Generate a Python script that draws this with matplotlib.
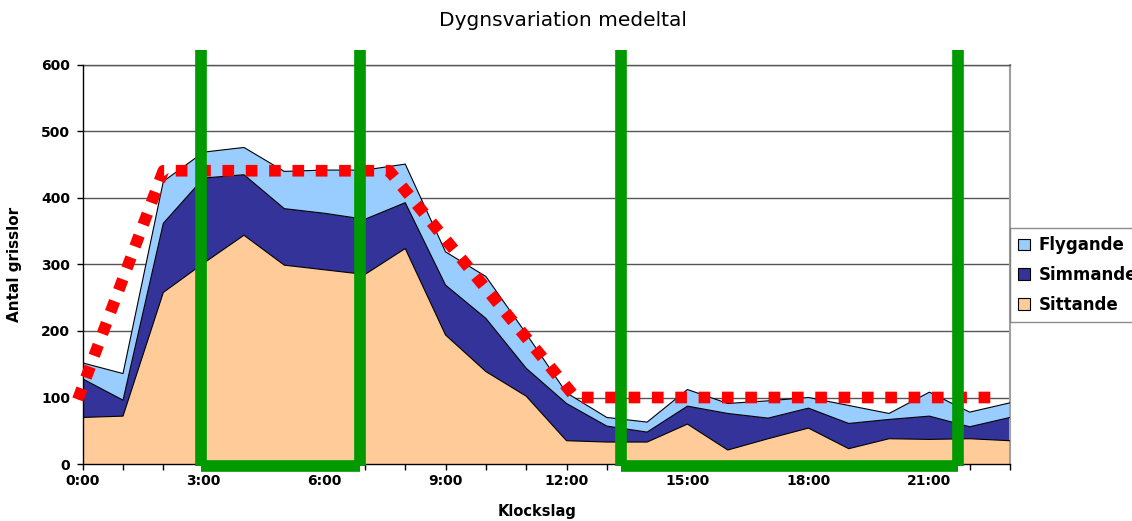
import matplotlib
matplotlib.use("Agg")
import matplotlib.pyplot as plt
from matplotlib.patches import Patch
import numpy as np

# ---- data ----
hours = list(range(24))
hour_labels = ["0:00", "3:00", "6:00", "9:00", "12:00", "15:00", "18:00", "21:00"]
hour_label_pos = [0, 3, 6, 9, 12, 15, 18, 21]

sittande = [70, 72, 258, 302, 344, 299, 292, 285, 324, 194, 139, 102,
            35, 33, 33, 60, 21, 38, 54, 23, 38, 37, 38, 35]
simmande = [58, 24, 104, 128, 91, 85, 85, 83, 69, 75, 80, 42,
            56, 24, 15, 27, 55, 31, 30, 38, 29, 35, 18, 35]
flygande = [24, 40, 63, 39, 41, 56, 65, 74, 58, 50, 63, 52,
            16, 13, 15, 25, 15, 26, 16, 27, 9, 36, 22, 22]

series_names = ["Sittande", "Simmande", "Flygande"]
series_colors = ["#FFCC99", "#333399", "#99CCFF"]

# red dotted target line (hour, value)
target_hours = [-0.12, 2.0, 7.6, 12.22, 22.8]
target_values = [97, 441, 441, 100, 100]

# green brackets (hour positions of verticals), top & bottom values
bracket1 = [2.935, 6.874]
bracket2 = [13.36, 21.70]
bracket_top = 622
bracket_bottom_v = -3
bracket_bottom_h = -2.3

# ---- figure ----
fig = plt.figure(figsize=(11.32, 5.21), dpi=100)
ax = fig.add_axes([82.7 / 1132, 1 - 464 / 521, (1010 - 82.7) / 1132, (464 - 65) / 521])

x = np.array(hours)
s1 = np.array(sittande)
s2 = s1 + np.array(simmande)
s3 = s2 + np.array(flygande)
lows = [np.zeros_like(s1), s1, s2]
highs = [s1, s2, s3]
for lo, hi, c in zip(lows, highs, series_colors):
    ax.fill_between(x, lo, hi, facecolor=c, edgecolor="none", zorder=2)
    ax.plot(x, hi, color="black", lw=0.8, zorder=3)

ax.set_xlim(0, 23)
ax.set_ylim(0, 600)
ax.set_yticks(range(0, 601, 100))
ax.yaxis.grid(True, color="#555555", lw=1.0, zorder=1)
ax.set_axisbelow(True)

ax.set_xticks(hours, minor=True)
ax.set_xticks(hour_label_pos)
ax.set_xticklabels(hour_labels)
ax.tick_params(axis="x", which="both", direction="out", length=4, width=1, color="black")
ax.tick_params(axis="y", direction="out", length=4, width=1, pad=5)
for lab in ax.get_xticklabels() + ax.get_yticklabels():
    lab.set_fontweight("bold")
    lab.set_fontsize(10)

for side in ["left", "bottom"]:
    ax.spines[side].set_color("black")
    ax.spines[side].set_linewidth(1.0)
    ax.spines[side].set_zorder(4)
ax.spines["right"].set_color("#a0a0a0")
ax.spines["right"].set_linewidth(1.5)
ax.spines["top"].set_color("#555555")
ax.spines["top"].set_linewidth(1.0)

ax.set_ylabel("Antal grisslor", fontsize=11, fontweight="bold")
ax.yaxis.set_label_coords(-0.065, 0.5)
ax.set_xlabel("Klockslag", fontsize=10.5, fontweight="bold")
ax.xaxis.set_label_coords(0.49, -0.1)

# red dotted line
ax.plot(target_hours, target_values, color="#FF0000", lw=8.4,
        dashes=(1, 1), dash_capstyle="butt", clip_on=False, zorder=5)

# green brackets
green = "#009900"
for br in (bracket1, bracket2):
    for hx in br:
        ax.plot([hx, hx], [bracket_bottom_v, bracket_top], color=green, lw=8.4,
                solid_capstyle="butt", clip_on=False, zorder=6)
    ax.plot(br, [bracket_bottom_h, bracket_bottom_h], color=green, lw=8.4,
            solid_capstyle="butt", clip_on=False, zorder=6)

# title
fig.text(563 / 1132, 1 - 20 / 521, "Dygnsvariation medeltal", ha="center", va="center",
         fontsize=14.5)

# legend
handles = [Patch(facecolor=c, edgecolor="black", lw=0.8) for c in series_colors]
leg = fig.legend(handles[::-1], series_names[::-1], loc="upper left",
                 bbox_to_anchor=(1010 / 1132, 1 - 228 / 521),
                 prop={"weight": "bold", "size": 12}, frameon=True, fancybox=False,
                 handlelength=0.7, handleheight=0.7, handletextpad=0.5,
                 borderpad=0.5, labelspacing=0.7, borderaxespad=0)
leg.get_frame().set_edgecolor("#707070")
leg.get_frame().set_linewidth(1.0)

fig.savefig("out.png", dpi=100)
